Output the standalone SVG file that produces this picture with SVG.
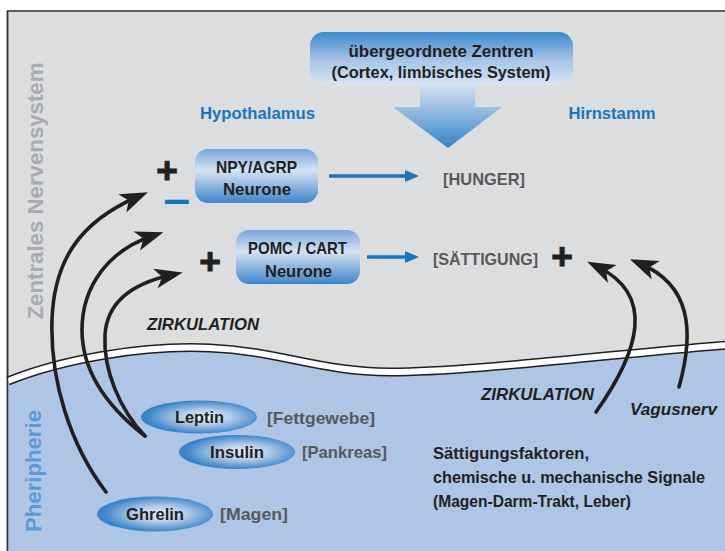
<svg xmlns="http://www.w3.org/2000/svg" width="725" height="551" viewBox="0 0 725 551">
<style>
text{font-family:"Liberation Sans",Arial,sans-serif;font-weight:bold}
.dk{fill:#231f20;font-size:17px}
.gr{fill:#58595b;font-size:17px}
.bl{fill:#1a75bc;font-size:17px}
.it{fill:#231f20;font-size:17px;font-style:italic}
.sym{fill:#231f20;stroke:#231f20;stroke-width:1;font-size:37px;font-weight:bold}
.bk{fill:none;stroke:#231f20;stroke-width:3.6;stroke-linecap:round;marker-end:url(#ah)}
.ba{fill:none;stroke:#1a75bc;stroke-width:3.5;marker-end:url(#bh)}
</style>
<defs>
<linearGradient id="gHead" x1="0" y1="0" x2="0" y2="1">
<stop offset="0" stop-color="#3c87cc"/><stop offset="0.55" stop-color="#a9c6e8"/><stop offset="1" stop-color="#d8e3f3"/>
</linearGradient>
<linearGradient id="gArr" x1="0" y1="0" x2="0" y2="1">
<stop offset="0" stop-color="#d5e1f2"/><stop offset="1" stop-color="#3783c8"/>
</linearGradient>
<linearGradient id="gBox" x1="0" y1="0" x2="0" y2="1">
<stop offset="0" stop-color="#77a5db"/><stop offset="0.4" stop-color="#d7e2f3"/><stop offset="1" stop-color="#3d85ca"/>
</linearGradient>
<radialGradient id="gEll" cx="0.55" cy="0.5" r="0.5">
<stop offset="0" stop-color="#e9eff8"/><stop offset="0.45" stop-color="#b3cbe9"/><stop offset="1" stop-color="#3a85c9"/>
</radialGradient>
<marker id="ah" markerUnits="userSpaceOnUse" viewBox="-30 -12 44 24" markerWidth="44" markerHeight="24" refX="-12" refY="0" orient="auto">
<path d="M0,0 L-28,-10 L-21,0 L-28,10 Z" fill="#231f20"/>
</marker>
<marker id="bh" markerUnits="userSpaceOnUse" viewBox="-14 -7 16 14" markerWidth="16" markerHeight="14" refX="-11" refY="0" orient="auto">
<path d="M0,0 L-14,-6 L-14,6 Z" fill="#1a75bc"/>
</marker>
</defs>

<g id="background">
<rect x="7.5" y="11" width="720" height="545" fill="#dcdddf" stroke="#333" stroke-width="1.5"/>
<path d="M8,381 C60,360 140,345 210,348 C280,351 320,372 390,372 C470,372 600,355 727,345 L727,551 L8,551 Z" fill="#aec5e5"/>
<path d="M8,381 C60,360 140,345 210,348 C280,351 320,372 390,372 C470,372 600,355 727,345" fill="none" stroke="#231f20" stroke-width="9"/>
<path d="M8,381 C60,360 140,345 210,348 C280,351 320,372 390,372 C470,372 600,355 727,345" fill="none" stroke="#ffffff" stroke-width="6"/>
<line x1="7.5" y1="11" x2="7.5" y2="551" stroke="#333" stroke-width="1.5"/>
</g>

<g id="side-labels">
<text transform="translate(43,191) rotate(-90)" text-anchor="middle" font-size="22" fill="#a9abae" textLength="257" lengthAdjust="spacingAndGlyphs">Zentrales Nervensystem</text>
<text transform="translate(41,471) rotate(-90)" text-anchor="middle" font-size="22" fill="#5b9bd5" textLength="122" lengthAdjust="spacingAndGlyphs">Pheripherie</text>
</g>

<g id="zentren">
<path d="M420,84 L475,84 L475,107 L502,107 L448,148 L393,107 L420,107 Z" fill="url(#gArr)"/>
<rect x="310" y="32" width="263" height="53" rx="14" fill="url(#gHead)"/>
<text class="dk" x="441" y="57" text-anchor="middle" textLength="185" lengthAdjust="spacingAndGlyphs">übergeordnete Zentren</text>
<text class="dk" x="441" y="78" text-anchor="middle" textLength="219" lengthAdjust="spacingAndGlyphs">(Cortex, limbisches System)</text>
</g>

<g id="region-labels">
<text class="bl" x="257.5" y="119" text-anchor="middle" textLength="115" lengthAdjust="spacingAndGlyphs">Hypothalamus</text>
<text class="bl" x="612" y="119" text-anchor="middle" textLength="87" lengthAdjust="spacingAndGlyphs">Hirnstamm</text>
</g>

<g id="npy">
<rect x="195" y="149" width="123" height="54" rx="13" fill="url(#gBox)"/>
<text class="dk" x="256.5" y="173" text-anchor="middle" textLength="81" lengthAdjust="spacingAndGlyphs">NPY/AGRP</text>
<text class="dk" x="257" y="195" text-anchor="middle" textLength="68" lengthAdjust="spacingAndGlyphs">Neurone</text>
</g>

<g id="pomc">
<rect x="236" y="230" width="124" height="54" rx="13" fill="url(#gBox)"/>
<text class="dk" x="297.5" y="254" text-anchor="middle" textLength="99" lengthAdjust="spacingAndGlyphs">POMC / CART</text>
<text class="dk" x="298.5" y="277" text-anchor="middle" textLength="67" lengthAdjust="spacingAndGlyphs">Neurone</text>
</g>

<g id="hunger">
<text class="gr" x="443" y="185" textLength="82" lengthAdjust="spacingAndGlyphs">[HUNGER]</text>
</g>
<g id="saettigung">
<text class="gr" x="433" y="265" textLength="105" lengthAdjust="spacingAndGlyphs">[SÄTTIGUNG]</text>
</g>

<g id="signs">
<text class="sym" x="167" y="182.6" text-anchor="middle">+</text>
<text x="165" y="208" font-size="19" textLength="23" lengthAdjust="spacingAndGlyphs" fill="#1a75bc" stroke="#1a75bc" stroke-width="2">−</text>
<text class="sym" x="210" y="273.6" text-anchor="middle">+</text>
<text class="sym" x="562" y="268.6" text-anchor="middle">+</text>
</g>

<g id="leptin">
<ellipse cx="199" cy="417" rx="58" ry="16.5" fill="url(#gEll)"/>
<text class="dk" x="199.5" y="423" text-anchor="middle" textLength="49" lengthAdjust="spacingAndGlyphs">Leptin</text>
<text class="gr" x="267" y="424" textLength="108" lengthAdjust="spacingAndGlyphs">[Fettgewebe]</text>
</g>
<g id="insulin">
<ellipse cx="237" cy="452" rx="58" ry="17" fill="url(#gEll)"/>
<text class="dk" x="237" y="458" text-anchor="middle" textLength="54" lengthAdjust="spacingAndGlyphs">Insulin</text>
<text class="gr" x="302" y="458" textLength="85" lengthAdjust="spacingAndGlyphs">[Pankreas]</text>
</g>
<g id="ghrelin">
<ellipse cx="155" cy="514" rx="58" ry="17.5" fill="url(#gEll)"/>
<text class="dk" x="155" y="520" text-anchor="middle" textLength="58" lengthAdjust="spacingAndGlyphs">Ghrelin</text>
<text class="gr" x="220" y="520" textLength="68" lengthAdjust="spacingAndGlyphs">[Magen]</text>
</g>

<g id="saettigungsfaktoren">
<text class="dk" x="433" y="459" textLength="156" lengthAdjust="spacingAndGlyphs">Sättigungsfaktoren,</text>
<text class="dk" x="433" y="483" textLength="272" lengthAdjust="spacingAndGlyphs">chemische u. mechanische Signale</text>
<text class="dk" x="433" y="507" textLength="198" lengthAdjust="spacingAndGlyphs">(Magen-Darm-Trakt, Leber)</text>
</g>

<g id="connectors">
<path class="ba" d="M329,176 L408,176"/>
<path class="ba" d="M367,257 L408,257"/>
<path class="bk" d="M106,492 C70,445 50,380 52,320 C54,260 80,222 137,197"/>
<path class="bk" d="M145,436 C105,405 82,370 82,330 C82,285 110,250 152,236"/>
<path class="bk" d="M145,436 C120,410 103,370 105,335 C107,300 135,283 171,275"/>
<path class="bk" d="M596,412 C640,350 655,295 598,267"/>
<path class="bk" d="M679,387 C695,330 690,285 641,264"/>
<text class="it" x="147" y="330" textLength="112" lengthAdjust="spacingAndGlyphs">ZIRKULATION</text>
<text class="it" x="481" y="400" textLength="113" lengthAdjust="spacingAndGlyphs">ZIRKULATION</text>
<text class="it" x="630" y="415" textLength="87" lengthAdjust="spacingAndGlyphs">Vagusnerv</text>
</g>
</svg>
